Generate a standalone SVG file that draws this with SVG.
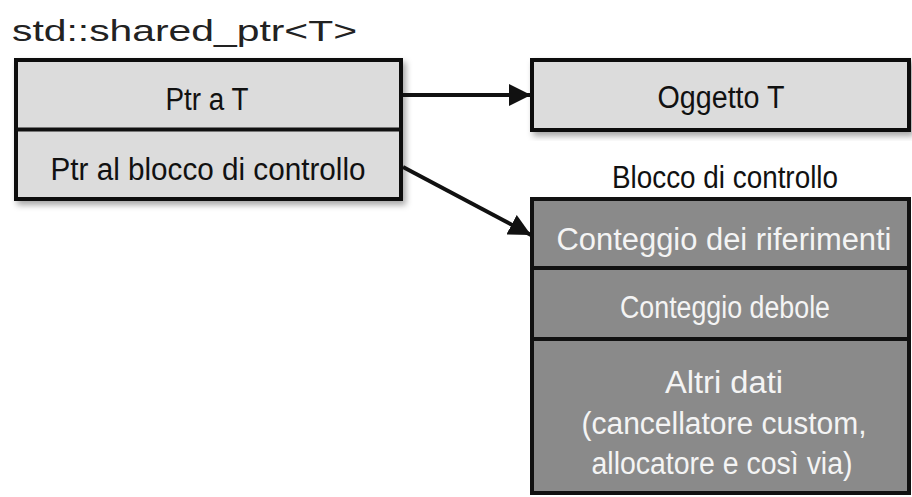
<svg xmlns="http://www.w3.org/2000/svg" width="912" height="497" viewBox="0 0 912 497">
<style>
.t{font-family:"Liberation Sans",Arial,sans-serif;font-size:31px;text-anchor:middle}
.dk{fill:#111}
.wt{fill:#f4f4f4}
.light{fill:#dcdcdc;stroke:#111;stroke-width:4}
.dark{fill:#8a8a8a;stroke:#111;stroke-width:4}
.div{stroke:#111;stroke-width:4}
.conn{stroke:#111;stroke-width:4;fill:none;marker-end:url(#ah)}
</style>
<defs>
<marker id="ah" viewBox="0 0 10 10" refX="10" refY="5" markerWidth="5.5" markerHeight="5.5" orient="auto" markerUnits="strokeWidth">
<path d="M0,0 L10,5 L0,10 Z" fill="#111"/>
</marker>
<filter id="sh" x="-5%" y="-5%" width="115%" height="120%">
<feDropShadow dx="3" dy="4" stdDeviation="3" flood-color="#000" flood-opacity="0.35"/>
</filter>
</defs>
<rect width="912" height="497" fill="#fff"/>
<text x="12" y="41" font-family="Liberation Sans,Arial,sans-serif" font-size="30" fill="#222" textLength="345" lengthAdjust="spacingAndGlyphs">std::shared_ptr&lt;T&gt;</text>
<g id="shared_ptr">
<rect class="light" x="16" y="60" width="385" height="139" filter="url(#sh)"/>
<line class="div" x1="16" y1="129.5" x2="401" y2="129.5"/>
<text class="t dk" x="207" y="110" textLength="83" lengthAdjust="spacingAndGlyphs">Ptr a T</text>
<text class="t dk" x="208" y="180" textLength="315" lengthAdjust="spacingAndGlyphs">Ptr al blocco di controllo</text>
</g>
<g id="oggetto">
<rect class="light" x="532" y="60" width="377" height="70" filter="url(#sh)"/>
<text class="t dk" x="721" y="108" textLength="127" lengthAdjust="spacingAndGlyphs">Oggetto T</text>
</g>
<g id="blocco">
<text class="t dk" x="725" y="188" textLength="226" lengthAdjust="spacingAndGlyphs">Blocco di controllo</text>
<rect class="dark" x="532" y="199" width="377" height="294"/>
<line class="div" x1="532" y1="268" x2="909" y2="268"/>
<line class="div" x1="532" y1="339" x2="909" y2="339"/>
<text class="t wt" x="724" y="250" textLength="335" lengthAdjust="spacingAndGlyphs">Conteggio dei riferimenti</text>
<text class="t wt" x="725" y="318" textLength="210" lengthAdjust="spacingAndGlyphs">Conteggio debole</text>
<text class="t wt" x="724" y="393" textLength="118" lengthAdjust="spacingAndGlyphs">Altri dati</text>
<text class="t wt" x="724" y="434" textLength="285" lengthAdjust="spacingAndGlyphs">(cancellatore custom,</text>
<text class="t wt" x="722" y="474" textLength="261" lengthAdjust="spacingAndGlyphs">allocatore e così via)</text>
</g>
<g id="connectors">
<line class="conn" x1="403" y1="95" x2="531" y2="95"/>
<line class="conn" x1="403" y1="167" x2="531" y2="235"/>
</g>
</svg>
